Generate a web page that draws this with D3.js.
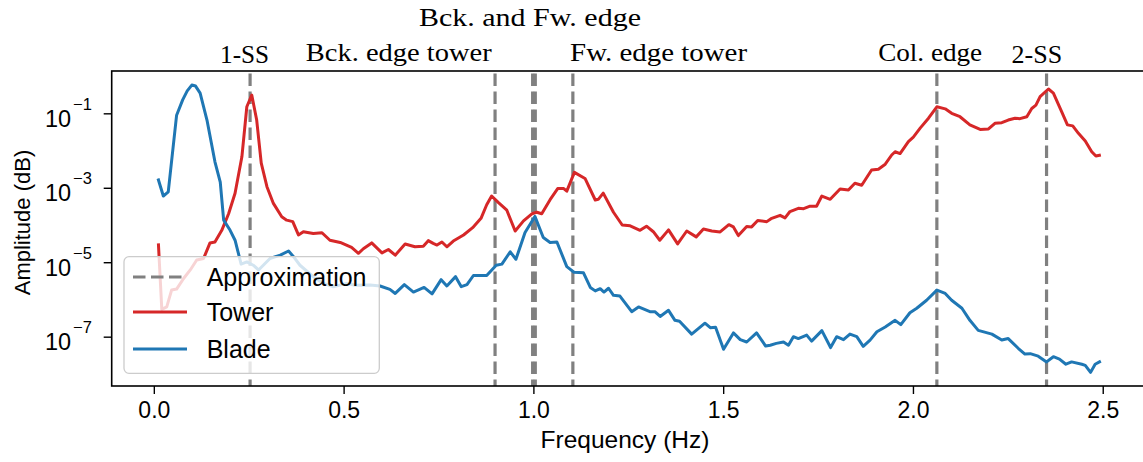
<!DOCTYPE html>
<html><head><meta charset="utf-8">
<script src="https://cdn.jsdelivr.net/npm/d3@7"></script>
<style>body{margin:0;background:#fff}</style>
</head><body><svg id="c" width="1143" height="462"></svg>
<script>
// ---- data ----
const towerFreq = [0.012,0.021,0.034,0.047,0.060,0.078,0.096,0.113,0.131,0.148,0.161,0.179,0.197,0.214,0.232,0.245,0.258,0.271,0.283,0.298,0.315,0.337,0.350,0.366,0.381,0.394,0.420,0.443,0.464,0.491,0.521,0.539,0.552,0.574,0.601,0.618,0.636,0.662,0.688,0.710,0.723,0.736,0.746,0.759,0.772,0.789,0.816,0.840,0.862,0.877,0.890,0.908,0.930,0.952,0.974,0.996,1.009,1.022,1.044,1.064,1.080,1.088,1.108,1.136,1.163,1.171,1.184,1.211,1.234,1.255,1.281,1.298,1.316,1.333,1.356,1.380,1.404,1.429,1.448,1.470,1.492,1.515,1.527,1.540,1.562,1.575,1.591,1.615,1.626,1.650,1.663,1.676,1.698,1.712,1.729,1.746,1.760,1.782,1.808,1.830,1.847,1.865,1.891,1.909,1.927,1.944,1.953,1.966,1.988,2.001,2.019,2.041,2.063,2.085,2.102,2.124,2.150,2.177,2.199,2.216,2.234,2.251,2.269,2.282,2.300,2.313,2.324,2.335,2.357,2.370,2.392,2.407,2.421,2.436,2.454,2.471,2.482,2.495];
const towerAmp = [3.2e-5,5.4e-7,6.3e-7,1.8e-6,1.9e-6,3.6e-6,6.2e-6,1.15e-5,1.26e-5,3.3e-5,3.5e-5,7.2e-5,2.0e-4,7.1e-4,6.8e-3,0.15,0.31,0.066,4.6e-3,1.07e-3,3.8e-4,1.66e-4,1.35e-4,1.23e-4,5.4e-5,6.6e-5,5.9e-5,6.2e-5,3.9e-5,3.4e-5,2.5e-5,1.74e-5,2.3e-5,3.3e-5,1.78e-5,2.2e-5,1.55e-5,3.1e-5,2.6e-5,2.7e-5,3.8e-5,3.2e-5,2.9e-5,3.5e-5,2.6e-5,3.7e-5,5.4e-5,8.5e-5,1.51e-4,3.5e-4,6.0e-4,4.0e-4,2.5e-4,6.9e-5,1.29e-4,2.0e-4,2.2e-4,2.0e-4,4.8e-4,9.5e-4,9.5e-4,8.1e-4,2.6e-3,1.78e-3,4.7e-4,4.9e-4,7.2e-4,2.2e-4,1.0e-4,9.5e-5,7.2e-5,9.3e-5,6.6e-5,3.9e-5,7.4e-5,3.1e-5,6.9e-5,4.8e-5,7.8e-5,6.9e-5,6.5e-5,1.02e-4,8.9e-5,5.2e-5,9.1e-5,8.9e-5,1.32e-4,1.23e-4,1.48e-4,1.82e-4,1.55e-4,2.3e-4,2.8e-4,2.75e-4,3.2e-4,3.2e-4,6.0e-4,4.9e-4,9.3e-4,8.7e-4,1.32e-3,1.17e-3,3.0e-3,3.16e-3,4.3e-3,7.6e-3,9.3e-3,8.3e-3,0.0174,0.023,0.040,0.074,0.15,0.132,0.10,0.081,0.049,0.037,0.038,0.054,0.056,0.066,0.074,0.072,0.081,0.135,0.166,0.28,0.45,0.35,0.11,0.049,0.046,0.029,0.018,9.3e-3,7.1e-3,7.6e-3];
const bladeFreq = [0.011,0.025,0.038,0.060,0.076,0.088,0.100,0.110,0.122,0.140,0.161,0.175,0.184,0.201,0.214,0.230,0.245,0.262,0.276,0.306,0.333,0.355,0.368,0.385,0.420,0.447,0.473,0.508,0.530,0.570,0.596,0.622,0.636,0.660,0.684,0.712,0.733,0.757,0.772,0.795,0.810,0.825,0.842,0.877,0.902,0.917,0.939,0.954,0.978,1.004,1.026,1.044,1.062,1.088,1.107,1.132,1.150,1.163,1.176,1.186,1.198,1.211,1.228,1.259,1.277,1.307,1.320,1.334,1.356,1.373,1.385,1.417,1.452,1.466,1.480,1.501,1.527,1.545,1.562,1.588,1.612,1.624,1.640,1.659,1.672,1.685,1.698,1.720,1.733,1.760,1.783,1.799,1.817,1.834,1.852,1.869,1.887,1.905,1.927,1.953,1.968,1.992,2.010,2.036,2.063,2.085,2.102,2.129,2.150,2.172,2.208,2.234,2.251,2.278,2.295,2.309,2.330,2.352,2.370,2.386,2.403,2.418,2.445,2.454,2.468,2.480,2.495];
const bladeAmp = [1.78e-3,6.0e-4,7.8e-4,0.089,0.23,0.40,0.575,0.54,0.35,0.066,5.0e-3,1.41e-3,1.35e-4,7.2e-5,3.9e-5,8.9e-6,1.02e-5,8.3e-6,6.2e-6,1.26e-5,1.55e-5,2.0e-5,1.41e-5,8.3e-6,4.1e-6,2.7e-6,2.2e-6,2.7e-6,2.4e-6,2.45e-6,2.3e-6,1.86e-6,1.45e-6,2.5e-6,1.58e-6,2.1e-6,1.41e-6,3.4e-6,2.3e-6,4.1e-6,2.2e-6,2.5e-6,4.4e-6,4.4e-6,8.3e-6,8.9e-6,1.9e-5,1.2e-5,6.3e-5,1.7e-4,4.6e-5,3.4e-5,3.5e-5,7.6e-6,5.4e-6,5.2e-6,2.1e-6,1.7e-6,1.95e-6,1.58e-6,2.0e-6,1.29e-6,1.23e-6,4.7e-7,6.3e-7,4.7e-7,4.7e-7,3.5e-7,5.1e-7,2.75e-7,2.6e-7,1.17e-7,2.3e-7,1.74e-7,1.78e-7,4.6e-8,1.26e-7,8.3e-8,7.2e-8,1.26e-7,5.6e-8,5.9e-8,6.6e-8,7.2e-8,5.9e-8,1.0e-7,8.9e-8,1.1e-7,7.6e-8,1.45e-7,5.1e-8,1.0e-7,8.3e-8,1.17e-7,1.0e-7,5.5e-8,8.1e-8,1.35e-7,1.82e-7,2.75e-7,2.1e-7,4.4e-7,5.8e-7,9.5e-7,1.78e-6,1.45e-6,9.5e-7,5.8e-7,2.75e-7,1.48e-7,1.17e-7,8.1e-8,8.9e-8,4.8e-8,3.4e-8,3.5e-8,3.0e-8,2.1e-8,2.9e-8,2.5e-8,1.82e-8,2.1e-8,1.82e-8,1.7e-8,1.1e-8,1.82e-8,2.2e-8];
const markerFreq = [0.2536, 0.899, 0.998, 1.005, 1.104, 2.063, 2.352];
const labelText = ["1-SS", "Bck. edge tower", "Bck. and Fw. edge", "Fw. edge tower", "Col. edge", "2-SS"];
const labelFreq = [0.2536, 0.899, 1.0015, 1.104, 2.063, 2.352];
const xTicks = [0, 0.5, 1.0, 1.5, 2.0, 2.5];
const xTickLabels = ["0.0", "0.5", "1.0", "1.5", "2.0", "2.5"];
const yTicks = [1e-1, 1e-3, 1e-5, 1e-7];
const yTickExp = ["\u22121", "\u22123", "\u22125", "\u22127"];
const legendNames = ["Approximation", "Tower", "Blade"];

// ---- layout / style ----
const L = 111.7, R = 1146, T = 71, B = 386;
const RED = "#d62728", BLUE = "#1f77b4", GRAY = "#808080";
const SANS = "Liberation Sans, Arial, sans-serif";
const svg = d3.select("#c");
const x = d3.scaleLinear().domain([-0.111, 2.614]).range([L, R]);
const y = d3.scaleLog().domain([Math.pow(10, -8.325), Math.pow(10, 0.137)]).range([B, T]);

svg.append("defs").append("clipPath").attr("id", "clip")
  .append("rect").attr("x", L).attr("y", T).attr("width", R - L).attr("height", B - T);
const plot = svg.append("g").attr("clip-path", "url(#clip)");

// vertical approximation lines
plot.selectAll("line.mk").data(markerFreq).enter().append("line")
  .attr("x1", d => x(d)).attr("x2", d => x(d)).attr("y1", T).attr("y2", B)
  .attr("stroke", GRAY).attr("stroke-width", 3.2).attr("stroke-dasharray", "12.5,5.5")
  .attr("stroke-dashoffset", -2.5);

const line = d3.line().x(d => x(d[0])).y(d => y(d[1]));
plot.append("path").datum(d3.zip(towerFreq, towerAmp)).attr("d", line)
  .attr("fill", "none").attr("stroke", RED).attr("stroke-width", 3).attr("stroke-linejoin", "round");
plot.append("path").datum(d3.zip(bladeFreq, bladeAmp)).attr("d", line)
  .attr("fill", "none").attr("stroke", BLUE).attr("stroke-width", 3).attr("stroke-linejoin", "round");

// frame
svg.append("rect").attr("x", L).attr("y", T).attr("width", R - L).attr("height", B - T)
  .attr("fill", "none").attr("stroke", "#000").attr("stroke-width", 1.6);

// x axis
const xa = svg.append("g").attr("transform", `translate(0,${B})`)
  .call(d3.axisBottom(x).tickValues(xTicks).tickSize(8).tickFormat((d, i) => xTickLabels[i]));
xa.select(".domain").remove();
xa.selectAll("line").attr("stroke-width", 1.4);
xa.selectAll("text").attr("font-family", SANS).attr("font-size", 23)
  .attr("fill", "#000").attr("dy", "0").attr("y", 32);

// y axis
const ya = svg.append("g").attr("transform", `translate(${L},0)`)
  .call(d3.axisLeft(y).tickValues(yTicks).tickSize(8).tickFormat(""));
ya.select(".domain").remove();
ya.selectAll("line").attr("stroke-width", 1.4);
yTicks.forEach((v, i) => {
  const g = svg.append("text").attr("font-family", SANS).attr("fill", "#000");
  g.append("tspan").attr("x", 45).attr("y", y(v) + 13.5).attr("font-size", 23.5).text("10");
  g.append("tspan").attr("x", 73).attr("y", y(v) - 3.5).attr("font-size", 16.5).text(yTickExp[i]);
});

// axis labels
svg.append("text").attr("x", 625).attr("y", 448).attr("text-anchor", "middle")
  .attr("font-family", SANS).attr("font-size", 24.5).text("Frequency (Hz)");
svg.append("text").attr("transform", `translate(30,${(T + B) / 2 - 6}) rotate(-90)`).attr("text-anchor", "middle")
  .attr("font-family", SANS).attr("font-size", 22).text("Amplitude (dB)");

// top labels
const labStyle = [
  {anchor: "middle", dx: -5.5, yb: 63, len: 49},
  {anchor: "end", dx: -3.3, yb: 61, len: 186},
  {anchor: "middle", dx: -4, yb: 26, len: 222},
  {anchor: "start", dx: -2.8, yb: 61, len: 177},
  {anchor: "middle", dx: -6.7, yb: 61, len: 104},
  {anchor: "middle", dx: -9.7, yb: 63, len: 50.6}
];
labelText.forEach((t, i) => {
  const s = labStyle[i];
  svg.append("text").attr("x", x(labelFreq[i]) + s.dx).attr("y", s.yb)
    .attr("text-anchor", s.anchor).attr("font-family", "Liberation Serif, Times New Roman, serif")
    .attr("font-size", 25).attr("textLength", s.len).attr("lengthAdjust", "spacingAndGlyphs")
    .attr("fill", "#000").text(t);
});

// legend
const lg = svg.append("g");
lg.append("rect").attr("x", 124).attr("y", 256.7).attr("width", 255.3).attr("height", 116.6)
  .attr("rx", 5).attr("fill", "#fff").attr("fill-opacity", 0.8).attr("stroke", "#cccccc").attr("stroke-width", 1.3);
const rows = [277, 312, 349];
const hColors = [GRAY, RED, BLUE];
legendNames.forEach((n, i) => {
  lg.append("line").attr("x1", 133).attr("x2", 187).attr("y1", rows[i]).attr("y2", rows[i])
    .attr("stroke", hColors[i]).attr("stroke-width", i === 0 ? 3.2 : 3)
    .attr("stroke-dasharray", i === 0 ? "12.5,5.5" : null);
  lg.append("text").attr("x", 206.7).attr("y", rows[i] + 9).attr("font-family", SANS)
    .attr("font-size", 25).attr("fill", "#000").text(n);
});
</script></body></html>
